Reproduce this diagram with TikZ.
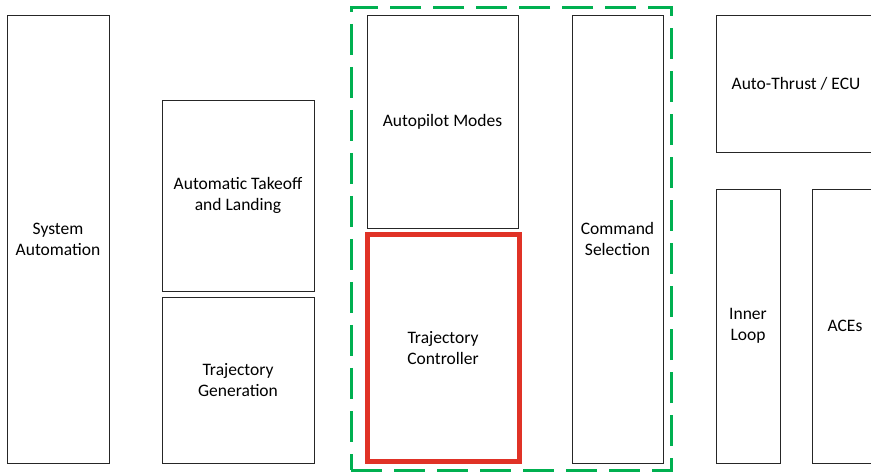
\documentclass[tikz,border=0pt]{standalone}
\usepackage{fontspec}
\setmainfont{Carlito}
\definecolor{grpgreen}{RGB}{0,176,80}
\definecolor{selred}{RGB}{224,50,38}
\tikzset{
  blk/.style={draw=black!85,line width=0.9pt,rectangle,inner sep=0pt,align=center,
    font=\fontsize{17.5}{21}\selectfont},
  sel/.style={blk,draw=selred,line width=5pt},
  grp/.style={draw=grpgreen,line width=3pt,dash pattern=on 31pt off 12pt,rectangle,inner sep=0pt}
}
\begin{document}
\begin{tikzpicture}[x=1pt,y=-1pt]
\useasboundingbox (0,0) rectangle (871,473);
\clip (0,0) rectangle (871,473);
% highlighted group
\node[grp,minimum width=320pt,minimum height=462pt] (group) at (511,239) {};
% blocks
\node[blk,minimum width=102pt,minimum height=448pt] (sysauto) at (58,239) {System\\Automation};
\node[blk,minimum width=152pt,minimum height=191pt] (atol) at (238,195.5) {Automatic Takeoff\\and Landing};
\node[blk,minimum width=152pt,minimum height=166pt] (trajgen) at (238,380) {Trajectory\\Generation};
\node[blk,minimum width=151pt,minimum height=213pt] (apmodes) at (442.5,121.5) {Autopilot Modes};
\node[sel,minimum width=152pt,minimum height=226pt] (trajctl) at (443,348) {Trajectory\\Controller};
\node[blk,minimum width=91pt,minimum height=448pt] (cmdsel) at (617.5,239) {Command\\Selection};
\node[blk,minimum width=160pt,minimum height=137pt] (athr) at (796,83.5) {Auto-Thrust / ECU};
\node[blk,minimum width=64pt,minimum height=274pt] (inner) at (748,326) {Inner\\Loop};
\node[blk,minimum width=66pt,minimum height=274pt] (aces) at (845,326) {ACEs};
\end{tikzpicture}
\end{document}
